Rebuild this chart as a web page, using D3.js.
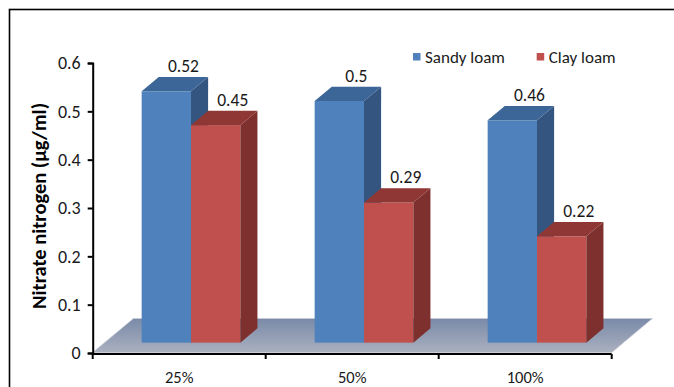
<!DOCTYPE html>
<html>
<head>
<meta charset="utf-8">
<script src="https://cdn.jsdelivr.net/npm/d3@7"></script>
<style>
  html, body { margin: 0; padding: 0; background: #fff; }
  svg { display: block; font-family: Carlito, Calibri, Lato, "Open Sans", sans-serif; }
</style>
</head>
<body>
<svg id="chart" width="674" height="387"></svg>
<script>
// Nitrate nitrogen by application rate and soil type
const categories = ["25%", "50%", "100%"];
const seriesNames = ["Sandy loam", "Clay loam"];
const sandyLoam = [0.52, 0.5, 0.46];
const clayLoam = [0.45, 0.29, 0.22];
const yTicks = [0, 0.1, 0.2, 0.3, 0.4, 0.5, 0.6];

const series = [
  { name: seriesNames[0], values: sandyLoam, front: "#4F81BD", top: "#3D6698", side: "#34557F" },
  { name: seriesNames[1], values: clayLoam, front: "#C0504D", top: "#8E3735", side: "#7D302E" }
];

const FONT = "Carlito, Calibri, Lato, 'Open Sans', sans-serif";
const svg = d3.select("#chart");

// outer frame
svg.append("rect")
  .attr("x", 9.5).attr("y", 9.5).attr("width", 700).attr("height", 400)
  .attr("fill", "none").attr("stroke", "#000").attr("stroke-width", 1.6);

const left = 92.7, right = 611.7, floorY = 352.5;
const depth = { dx: 40.7, dy: -34 };          // full floor depth vector
const barDepth0 = 0.29, barDepth1 = 0.71;      // bar slab inside the floor depth

const x = d3.scaleBand().domain(categories).range([left, right]);
const y = d3.scaleLinear().domain([0, 0.6]).range([353, 63]);
const pxPerUnit = y(0) - y(1);

// floor
const defs = svg.append("defs");
const grad = defs.append("linearGradient").attr("id", "floorGrad")
  .attr("x1", 0).attr("y1", 0).attr("x2", 0).attr("y2", 1);
grad.append("stop").attr("offset", "0%").attr("stop-color", "#7A8AA8");
grad.append("stop").attr("offset", "100%").attr("stop-color", "#AAB0BF");

const floorPts = [
  [left, floorY], [right, floorY],
  [right + depth.dx, floorY + depth.dy], [left + depth.dx, floorY + depth.dy]
];
svg.append("polygon")
  .attr("points", floorPts.map(p => p.join(",")).join(" "))
  .attr("fill", "url(#floorGrad)")
  .attr("stroke", "#C9CCD4").attr("stroke-width", 0.8);

// bars
const groupWidth = 98.7;
const inner = d3.scaleBand().domain(seriesNames)
  .range([0, groupWidth]).padding(0);
const offX = barDepth0 * depth.dx, offY = barDepth0 * depth.dy;
const bdx = (barDepth1 - barDepth0) * depth.dx, bdy = (barDepth1 - barDepth0) * depth.dy;
const baseY = floorY + offY;

const barsG = svg.append("g");
const labelsG = svg.append("g");
categories.forEach((cat, i) => {
  series.forEach(s => {
    const v = s.values[i];
    const x0 = x(cat) + (x.bandwidth() - groupWidth) / 2 + inner(s.name) + offX;
    const w = inner.bandwidth();
    const yTop = baseY - v * pxPerUnit;
    const g = barsG.append("g");
    // front face
    g.append("rect").attr("x", x0).attr("y", yTop).attr("width", w).attr("height", baseY - yTop)
      .attr("fill", s.front);
    // side face
    g.append("polygon").attr("points", [
      [x0 + w, yTop], [x0 + w + bdx, yTop + bdy], [x0 + w + bdx, baseY + bdy], [x0 + w, baseY]
    ].map(p => p.join(",")).join(" ")).attr("fill", s.side);
    // top face
    g.append("polygon").attr("points", [
      [x0, yTop], [x0 + bdx, yTop + bdy], [x0 + w + bdx, yTop + bdy], [x0 + w, yTop]
    ].map(p => p.join(",")).join(" ")).attr("fill", s.top);

    labelsG.append("text")
      .attr("x", x0 + w / 2 + bdx)
      .attr("y", yTop + bdy - 5)
      .attr("text-anchor", "middle")
      .attr("font-size", 17.5).attr("fill", "#1a1a1a")
      .text(v);
  });
});

// y axis
const yAxis = d3.axisLeft(y).tickValues(yTicks).tickSize(5).tickPadding(7)
  .tickFormat(d => d === 0 ? "0" : d3.format(".1f")(d));
const yg = svg.append("g").attr("transform", `translate(${left},0)`).call(yAxis);
yg.select(".domain").attr("stroke", "#000").attr("stroke-width", 2);
yg.selectAll(".tick line").attr("stroke", "#000").attr("stroke-width", 2);
yg.selectAll(".tick text").attr("font-size", 18).attr("fill", "#1a1a1a")
  .attr("font-family", FONT);

// x axis: ticks at category boundaries, labels at centres
const xg = svg.append("g");
xg.append("line").attr("x1", left).attr("x2", right).attr("y1", 354).attr("y2", 354)
  .attr("stroke", "#000").attr("stroke-width", 2);
const bounds = categories.map(c => x(c)).concat([right]);
xg.selectAll("line.tk").data(bounds).join("line").attr("class", "tk")
  .attr("x1", d => d).attr("x2", d => d).attr("y1", 354).attr("y2", 359)
  .attr("stroke", "#000").attr("stroke-width", 2);
xg.selectAll("text").data(categories).join("text")
  .attr("x", d => x(d) + x.bandwidth() / 2).attr("y", 383)
  .attr("text-anchor", "middle").attr("font-size", 16.5).attr("fill", "#1a1a1a")
  .text(d => d);

// y axis title
svg.append("text")
  .attr("transform", "translate(46,206) rotate(-90)")
  .attr("text-anchor", "middle")
  .attr("font-size", 20.5).attr("font-weight", "bold").attr("fill", "#000")
  .text("Nitrate nitrogen (μg/ml)");

// legend
const legendPos = [413, 536.7];
series.forEach((s, i) => {
  const lg = svg.append("g").attr("transform", `translate(${legendPos[i]},53)`);
  lg.append("rect").attr("width", 7.5).attr("height", 7.5).attr("fill", s.front);
  lg.append("text").attr("x", 12).attr("y", 10).attr("font-size", 17).attr("fill", "#1a1a1a")
    .text(s.name);
});
</script>
</body>
</html>
